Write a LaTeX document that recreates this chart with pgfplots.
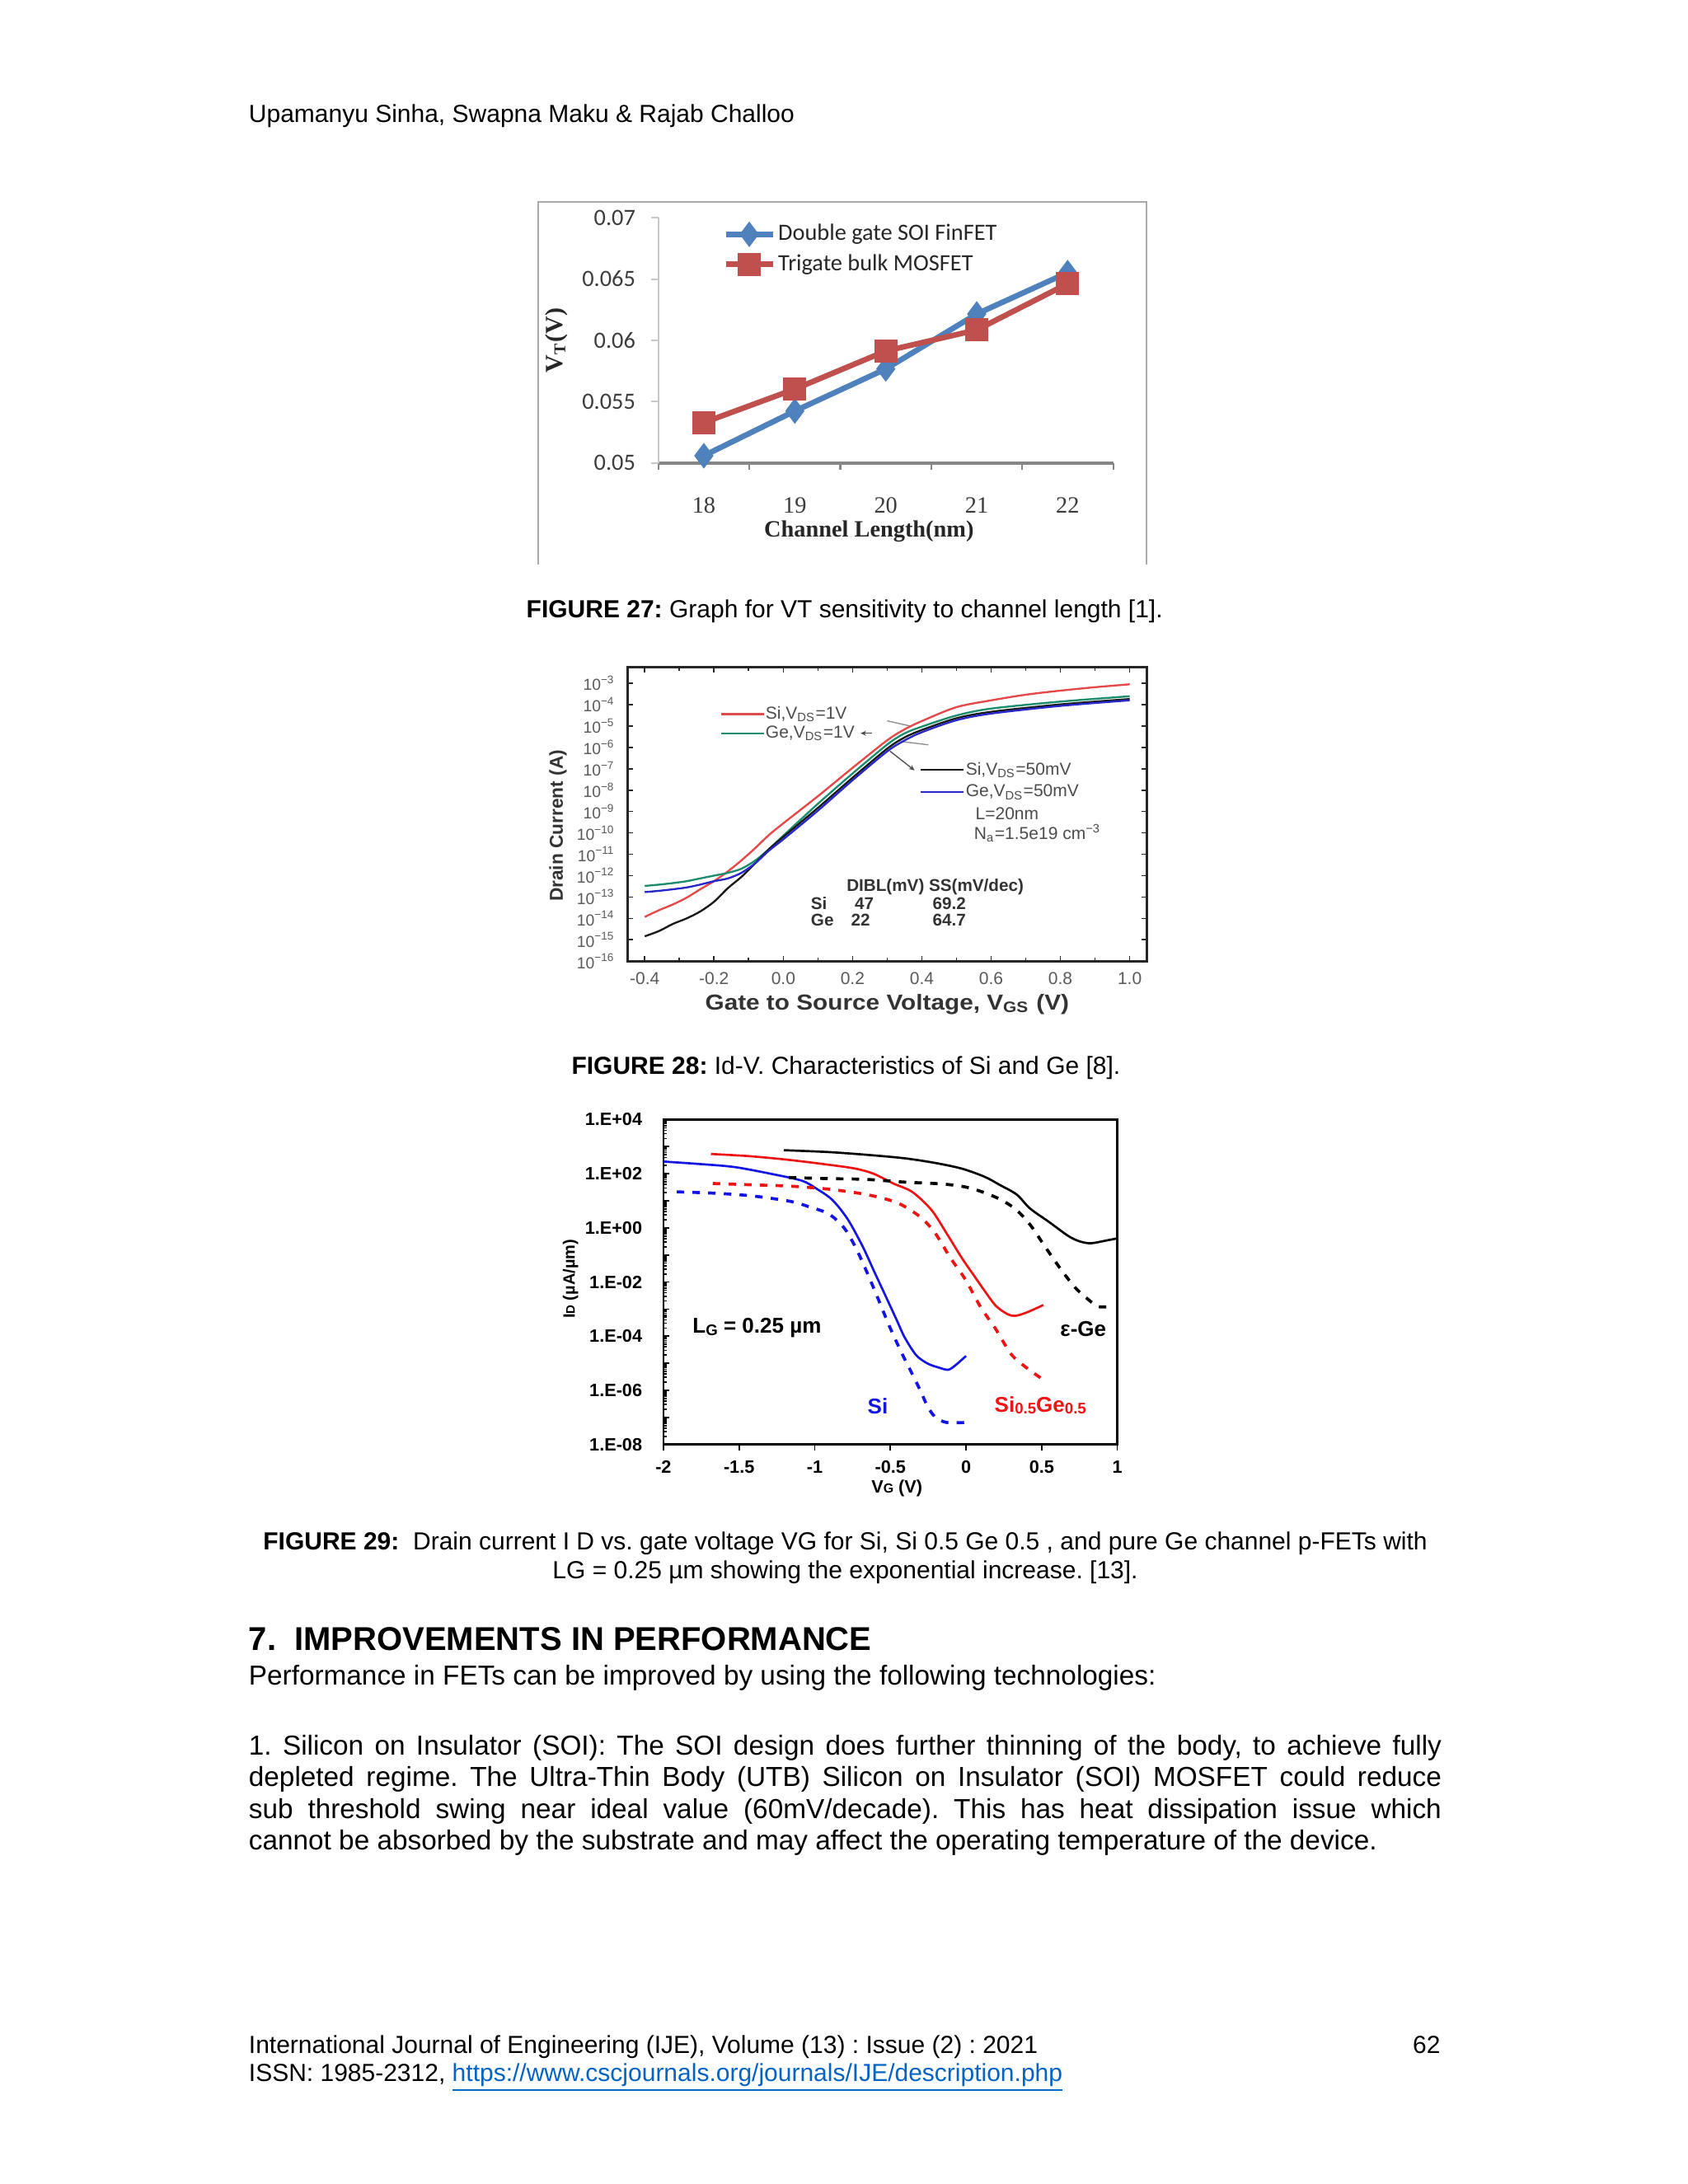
\documentclass[border=0pt]{standalone}
\usepackage{pgfplots}
\pgfplotsset{compat=1.18}
\usetikzlibrary{arrows.meta}
\usepackage{fontspec}
\setmainfont{Liberation Sans}
\newfontfamily\calib{Carlito}
\newfontfamily\tnr{Liberation Serif}
\newcommand\PX{0.5058bp}
\newcommand\fsz[1]{\fontsize{#1}{#1}\selectfont}
\definecolor{xlblue}{RGB}{79,129,189}
\definecolor{xlred}{RGB}{192,80,77}
\definecolor{framegray}{RGB}{170,170,170}
\definecolor{axgray}{RGB}{134,134,134}
\definecolor{lgray}{RGB}{200,200,200}
\definecolor{ticktxt}{RGB}{60,60,60}
\definecolor{oRed}{RGB}{228,72,72}
\definecolor{oGreen}{RGB}{30,140,110}
\definecolor{oBlue}{RGB}{40,40,200}
\definecolor{oBlack}{RGB}{25,25,25}
\definecolor{pRed}{RGB}{238,20,20}
\definecolor{pBlue}{RGB}{20,20,228}
\definecolor{lnk}{RGB}{5,99,193}
\frenchspacing
\begin{document}
\begin{tikzpicture}
\fill[white] (0,0) rectangle (612bp,-792bp);
\path[use as bounding box] (0,0) rectangle (612bp,-792bp);

% ---------- page text ----------
\begin{scope}[x=\PX,y=-\PX]
\node[anchor=base west,inner sep=0,font=\fsz{9}] at (178,88) {Upamanyu Sinha, Swapna Maku \& Rajab Challoo};

% figure 27 frame
\draw[framegray,line width=0.6bp] (386,405) -- (386,145) -- (822,145) -- (822,405);
\node[inner sep=0,font=\tnr\bfseries\fsz{8.5},text=black!85] at (623,381) {Channel Length(nm)};
\node[inner sep=0,rotate=90,font=\tnr\bfseries\fsz{9},text=black!85] at (399,244) {V\textsubscript{T}(V)};

\node[anchor=base,inner sep=0,font=\fsz{9}] at (605.5,443) {\textbf{FIGURE 27:} Graph for VT sensitivity to channel length [1].};

% figure 28 labels and notes
\node[inner sep=0,rotate=90,font=\bfseries\fsz{6.8},text=black!80] at (400,592) {Drain Current (A)};
\node[inner sep=0,xscale=1.13,font=\bfseries\fsz{7.9},text=black!80] at (636,720) {Gate to Source Voltage, V\textsubscript{GS} (V)};
\draw[oRed,line width=0.7bp] (516.8,512) -- (547.5,512);
\draw[oGreen,line width=0.7bp] (516.8,525.7) -- (547.5,525.7);
\node[anchor=west,inner sep=0,font=\fsz{6.3},text=black!70] at (548.5,512) {Si,V\textsubscript{DS}=1V};
\node[anchor=west,inner sep=0,font=\fsz{6.3},text=black!70] at (548.5,525.7) {Ge,V\textsubscript{DS}=1V};
\draw[black!70,line width=0.4bp,-{Stealth[length=2bp,width=1.8bp]}] (625,525.7) -- (617,525.7);
\draw[black!45,line width=0.4bp] (636,516.8) -- (653.7,520.8);
\draw[black!45,line width=0.4bp] (645.8,531.6) -- (665.5,534);
\draw[black!70,line width=0.4bp,-{Stealth[length=2bp,width=1.8bp]}] (638,538.5) -- (655.6,552.3);
\draw[oBlack,line width=0.7bp] (660,552) -- (691,552);
\draw[oBlue,line width=0.7bp] (660,568) -- (691,568);
\node[anchor=west,inner sep=0,font=\fsz{6.3},text=black!70] at (692,552) {Si,V\textsubscript{DS}=50mV};
\node[anchor=west,inner sep=0,font=\fsz{6.3},text=black!70] at (692,568) {Ge,V\textsubscript{DS}=50mV};
\node[anchor=west,inner sep=0,font=\fsz{6.3},text=black!70] at (699,583.6) {L=20nm};
\node[anchor=west,inner sep=0,font=\fsz{6.3},text=black!70] at (698,597.4) {N\textsubscript{a}=1.5e19 cm\textsuperscript{−3}};
\begin{scope}[every node/.style={inner sep=0,font=\bfseries\fsz{6.2},text=black!80}]
\node[anchor=west] at (606.6,636) {DIBL(mV) SS(mV/dec)};
\node[anchor=west] at (581,647.8) {Si};
\node at (619.6,647.8) {47};
\node at (680.5,647.8) {69.2};
\node[anchor=west] at (581,659.6) {Ge};
\node at (617,659.6) {22};
\node at (680.5,659.6) {64.7};
\end{scope}

\node[anchor=base,inner sep=0,font=\fsz{9}] at (606.5,770) {\textbf{FIGURE 28:} Id-V. Characteristics of Si and Ge [8].};

% figure 29 labels
\node[inner sep=0,rotate=90,font=\bfseries\fsz{6}] at (409,917) {I{\fsz{4.5}D} (µA/µm)};
\node[inner sep=0,font=\bfseries\fsz{6.5}] at (643,1067) {V{\fsz{4.8}G} (V)};

\node[anchor=base,inner sep=0,font=\fsz{9}] at (606,1111) {\textbf{FIGURE 29:}\ \ Drain current I D vs. gate voltage VG for Si, Si 0.5 Ge 0.5 , and pure Ge channel p-FETs with};
\node[anchor=base,inner sep=0,font=\fsz{9}] at (606,1132) {LG = 0.25 µm showing the exponential increase. [13].};

\node[anchor=base west,inner sep=0,font=\bfseries\fsz{12}] at (178,1183) {7.\ \ IMPROVEMENTS IN PERFORMANCE};
\node[anchor=base west,inner sep=0,font=\fsz{10}] at (178,1208) {Performance in FETs can be improved by using the following technologies:};
\begin{scope}[every node/.style={anchor=base west,inner sep=0,font=\fsz{10}}]
\node at (178,1258) {\makebox[432.5bp][s]{1. Silicon on Insulator (SOI): The SOI design does further thinning of the body, to achieve fully}};
\node at (178,1281) {\makebox[432.5bp][s]{depleted regime. The Ultra-Thin Body (UTB) Silicon on Insulator (SOI) MOSFET could reduce}};
\node at (178,1304) {\makebox[432.5bp][s]{sub threshold swing near ideal value (60mV/decade). This has heat dissipation issue which}};
\node at (178,1326) {cannot be absorbed by the substrate and may affect the operating temperature of the device.};
\end{scope}

\node[anchor=base west,inner sep=0,font=\fsz{9}] at (178,1472) {International Journal of Engineering (IJE), Volume (13) : Issue (2) : 2021};
\node[anchor=base east,inner sep=0,font=\fsz{9}] at (1033,1472) {62};
\node[anchor=base west,inner sep=0,font=\fsz{9}] at (178,1492) {ISSN: 1985-2312, \textcolor{lnk}{\underline{https://www.cscjournals.org/journals/IJE/description.php}}};
\end{scope}

% ---------- FIGURE 27 ----------
\begin{axis}[
  at={(472*\PX,-332*\PX)}, anchor=south west,
  width=164.9bp, height=89bp, scale only axis,
  xmin=17.5, xmax=22.5, ymin=0.05, ymax=0.07,
  scaled y ticks=false,
  axis lines*=left, axis line style={-},
  x axis line style={draw=axgray,line width=1.3bp},
  y axis line style={draw=lgray,line width=0.6bp},
  xtick={18,19,20,21,22}, xticklabels={18,19,20,21,22},
  minor xtick={17.5,18.5,19.5,20.5,21.5,22.5},
  major x tick style={draw=none},
  minor x tick style={draw=axgray,line width=0.6bp},
  ytick={0.05,0.055,0.06,0.065,0.07},
  yticklabels={0.05,0.055,0.06,0.065,0.07},
  y tick style={draw=lgray,line width=0.6bp},
  tick align=outside, major tick length=2.5bp, minor tick length=2.5bp,
  xticklabel style={font=\tnr\fsz{8.5},text=ticktxt,yshift=-6.5bp},
  yticklabel style={font=\calib\fsz{8.5},text=ticktxt,xshift=-2.3bp},
  clip=false,
  legend cell align=left,
  legend style={draw=none,fill=none,at={(0.141,0.987)},anchor=north west,
    font=\calib\fsz{8.5},text=black!85,inner sep=0pt,row sep=1.5bp,
    nodes={inner sep=1bp}},
]
\addplot[xlblue,line width=2bp,mark=diamond*,mark size=3bp] coordinates {
  (18,0.0506) (19,0.05424) (20,0.05767) (21,0.06215) (22,0.06552)};
\addplot[xlred,line width=2bp,mark=square*,mark size=3.2bp] coordinates {
  (18,0.0533) (19,0.05603) (20,0.05913) (21,0.06085) (22,0.06462)};
\legend{Double gate SOI FinFET,Trigate bulk MOSFET}
\end{axis}

% ---------- FIGURE 28 ----------
\begin{axis}[
  at={(449.8*\PX,-689.1*\PX)}, anchor=south west,
  width=188.4bp, height=106.6bp, scale only axis,
  xmin=-0.45, xmax=1.05, ymode=log, ymin=1e-16, ymax=5.62e-3,
  axis line style={draw=black!85,line width=0.8bp},
  xtick={-0.4,-0.2,0,0.2,0.4,0.6,0.8,1.0},
  xticklabels={-0.4,-0.2,0.0,0.2,0.4,0.6,0.8,1.0},
  minor x tick num=1,
  ytick={1e-16,1e-15,1e-14,1e-13,1e-12,1e-11,1e-10,1e-9,1e-8,1e-7,1e-6,1e-5,1e-4,1e-3},
  yticklabels={10\textsuperscript{−16},10\textsuperscript{−15},10\textsuperscript{−14},10\textsuperscript{−13},10\textsuperscript{−12},10\textsuperscript{−11},10\textsuperscript{−10},10\textsuperscript{−9},10\textsuperscript{−8},10\textsuperscript{−7},10\textsuperscript{−6},10\textsuperscript{−5},10\textsuperscript{−4},10\textsuperscript{−3}},
  yminorticks=false,
  tick align=inside, major tick length=2bp, minor tick length=1.2bp,
  tick style={black!85,line width=0.5bp},
  xticklabel style={font=\fsz{6.3},text=black!65,yshift=-0.6bp},
  yticklabel style={font=\fsz{5.8},text=black!65,xshift=-1bp},
]
\addplot[oRed,line width=0.7bp,smooth,tension=0.5] coordinates {
 (-0.4,1.17e-14) (-0.358,2.45e-14) (-0.319,4.47e-14) (-0.279,9.33e-14) (-0.24,2.29e-13)
 (-0.2,5.5e-13) (-0.16,1.58e-12) (-0.121,5.13e-12) (-0.081,1.95e-11) (-0.042,7.8e-11)
 (0.0,2.8e-10) (0.1,5.2e-9) (0.2,1.1e-7) (0.3,2.14e-6) (0.35,6.9e-6) (0.4,1.7e-5)
 (0.5,7.6e-5) (0.6,1.58e-4) (0.7,2.9e-4) (0.8,4.5e-4) (0.9,6.5e-4) (1.0,8.9e-4)};
\addplot[oGreen,line width=0.7bp,smooth,tension=0.5] coordinates {
 (-0.4,3.3e-13) (-0.358,3.8e-13) (-0.319,4.47e-13) (-0.279,5.5e-13) (-0.24,7.4e-13)
 (-0.2,1.0e-12) (-0.16,1.35e-12) (-0.121,2.1e-12) (-0.081,5.1e-12) (-0.042,1.7e-11)
 (0.0,7.4e-11) (0.1,2.3e-9) (0.2,6.0e-8) (0.3,1.35e-6) (0.35,4.5e-6) (0.4,9.3e-6)
 (0.5,3.1e-5) (0.6,6.5e-5) (0.8,1.38e-4) (1.0,2.45e-4)};
\addplot[oBlack,line width=0.7bp,smooth,tension=0.5] coordinates {
 (-0.4,1.45e-15) (-0.358,2.6e-15) (-0.319,5.5e-15) (-0.279,1.0e-14) (-0.24,2.1e-14)
 (-0.2,6.0e-14) (-0.16,2.6e-13) (-0.121,8.7e-13) (-0.081,3.8e-12) (-0.042,1.7e-11)
 (0.0,6.5e-11) (0.1,1.48e-9) (0.2,3.8e-8) (0.3,8.7e-7) (0.35,2.9e-6) (0.4,6.5e-6)
 (0.5,2.3e-5) (0.6,4.6e-5) (0.8,1.02e-4) (1.0,1.82e-4)};
\addplot[oBlue,line width=0.7bp,smooth,tension=0.5] coordinates {
 (-0.4,1.7e-13) (-0.358,1.95e-13) (-0.319,2.3e-13) (-0.279,2.8e-13) (-0.24,3.8e-13)
 (-0.2,5.5e-13) (-0.16,7.4e-13) (-0.121,1.35e-12) (-0.081,3.8e-12) (-0.042,1.45e-11)
 (0.0,5.0e-11) (0.1,1.1e-9) (0.2,2.9e-8) (0.3,6.5e-7) (0.35,2.1e-6) (0.4,5.1e-6)
 (0.5,1.86e-5) (0.6,3.8e-5) (0.8,8.7e-5) (1.0,1.58e-4)};
\end{axis}

% ---------- FIGURE 29 ----------
\begin{axis}[
  at={(475.6*\PX,-1035.6*\PX)}, anchor=south west,
  width=164.6bp, height=117.8bp, scale only axis,
  xmin=-2, xmax=1, ymode=log, ymin=1e-8, ymax=1e4,
  axis line style={draw=black,line width=0.8bp},
  xtick={-2,-1.5,-1,-0.5,0,0.5,1},
  xticklabels={-2,-1.5,-1,-0.5,0,0.5,1},
  xtick pos=bottom, ytick pos=left,
  ytick={1e-8,1e-7,1e-6,1e-5,1e-4,1e-3,1e-2,1e-1,1,1e1,1e2,1e3,1e4},
  yticklabels={1.E-08,,1.E-06,,1.E-04,,1.E-02,,1.E+00,,1.E+02,,1.E+04},
  minor ytick={2e-8,3e-8,4e-8,5e-8,6e-8,7e-8,8e-8,9e-8,
    2e-7,3e-7,4e-7,5e-7,6e-7,7e-7,8e-7,9e-7,
    2e-6,3e-6,4e-6,5e-6,6e-6,7e-6,8e-6,9e-6,
    2e-5,3e-5,4e-5,5e-5,6e-5,7e-5,8e-5,9e-5,
    2e-4,3e-4,4e-4,5e-4,6e-4,7e-4,8e-4,9e-4,
    2e-3,3e-3,4e-3,5e-3,6e-3,7e-3,8e-3,9e-3,
    2e-2,3e-2,4e-2,5e-2,6e-2,7e-2,8e-2,9e-2,
    0.2,0.3,0.4,0.5,0.6,0.7,0.8,0.9,
    2,3,4,5,6,7,8,9,
    20,30,40,50,60,70,80,90,
    200,300,400,500,600,700,800,900,
    2000,3000,4000,5000,6000,7000,8000,9000},
  tick align=inside, major tick length=2.2bp, minor tick length=1.3bp,
  tick style={black,line width=0.5bp},
  major x tick style={yshift=-2.2bp},
  xticklabel style={font=\bfseries\fsz{6.5},yshift=-2.4bp},
  yticklabel style={font=\bfseries\fsz{6.5},xshift=-4.2bp},
  clip=false,
]
\addplot[pBlue,line width=0.8bp,smooth,tension=0.5] coordinates {
 (-2,282) (-1.787,234) (-1.535,178) (-1.284,98) (-1.084,55) (-0.983,26.9) (-0.883,10.7)
 (-0.782,2.09) (-0.682,0.2) (-0.607,0.0245) (-0.531,0.003) (-0.456,3.7e-4) (-0.406,9.1e-5)
 (-0.33,2.0e-5) (-0.255,9.8e-6) (-0.18,6.9e-6) (-0.117,5.75e-6) (-0.067,8.7e-6) (0.0,1.86e-5)};
\addplot[pBlue,line width=1.1bp,dash pattern=on 2.7bp off 3bp,smooth,tension=0.5] coordinates {
 (-1.912,21.4) (-1.661,19.1) (-1.41,15.1) (-1.159,9.5) (-1.033,5.9) (-0.908,3.3) (-0.807,1.02)
 (-0.732,0.2) (-0.657,0.0245) (-0.581,2.4e-3) (-0.506,2.3e-4) (-0.431,2.8e-5) (-0.368,5.5e-6)
 (-0.305,1.07e-6) (-0.255,2.6e-7) (-0.205,1.05e-7) (-0.13,6.5e-8) (0.0,6.5e-8)};
\addplot[pRed,line width=0.8bp,smooth,tension=0.5] coordinates {
 (-1.686,537) (-1.435,447) (-1.184,331) (-0.933,224) (-0.732,155) (-0.607,98) (-0.481,43.7)
 (-0.356,21.4) (-0.23,4.7) (-0.13,0.65) (-0.029,0.079) (0.046,0.0195) (0.122,4.8e-3)
 (0.197,1.32e-3) (0.272,6.6e-4) (0.322,5.6e-4) (0.398,7.4e-4) (0.511,1.41e-3)};
\addplot[pRed,line width=1.1bp,dash pattern=on 2.7bp off 3bp,smooth,tension=0.5] coordinates {
 (-1.674,43.7) (-1.41,38.9) (-1.159,34.7) (-0.908,26.9) (-0.657,17) (-0.456,8.5) (-0.305,2.6)
 (-0.205,0.65) (-0.104,0.079) (-0.004,0.0123) (0.097,1.17e-3) (0.197,1.8e-4) (0.297,2.2e-5)
 (0.398,6.9e-6) (0.498,2.75e-6)};
\addplot[black,line width=0.8bp,smooth,tension=0.5] coordinates {
 (-1.204,741) (-0.908,631) (-0.657,501) (-0.406,372) (-0.205,251) (-0.029,155) (0.122,77.6)
 (0.222,38.9) (0.335,17) (0.423,5.2) (0.548,1.66) (0.674,0.51) (0.749,0.32) (0.824,0.27)
 (0.925,0.34) (1.0,0.41)};
\addplot[black,line width=1.1bp,dash pattern=on 2.7bp off 3bp,smooth,tension=0.5] coordinates {
 (-1.171,72.4) (-0.908,66) (-0.657,61.7) (-0.406,49) (-0.155,41.7) (0.021,30.2) (0.197,13.5)
 (0.322,5.2) (0.423,1.32) (0.523,0.2) (0.624,0.031) (0.724,6.0e-3) (0.824,1.9e-3)
 (0.875,1.23e-3) (0.962,1.23e-3)};
\node[anchor=west,inner sep=0,font=\bfseries\fsz{7.8}] at (axis cs:-1.81,2.0e-4) {L{\fsz{5.6}\raisebox{-0.8bp}{G}} = 0.25 µm};
\node[anchor=east,inner sep=0,font=\bfseries\fsz{7.8}] at (axis cs:0.93,1.8e-4) {ε-Ge};
\node[inner sep=0,font=\bfseries\fsz{7.8},text=pBlue] at (axis cs:-0.583,2.6e-7) {Si};
\node[anchor=west,inner sep=0,font=\bfseries\fsz{7.8},text=pRed] at (axis cs:0.185,2.8e-7) {Si{\fsz{5.6}\raisebox{-0.8bp}{0.5}}Ge{\fsz{5.6}\raisebox{-0.8bp}{0.5}}};
\end{axis}
\end{tikzpicture}
\end{document}
